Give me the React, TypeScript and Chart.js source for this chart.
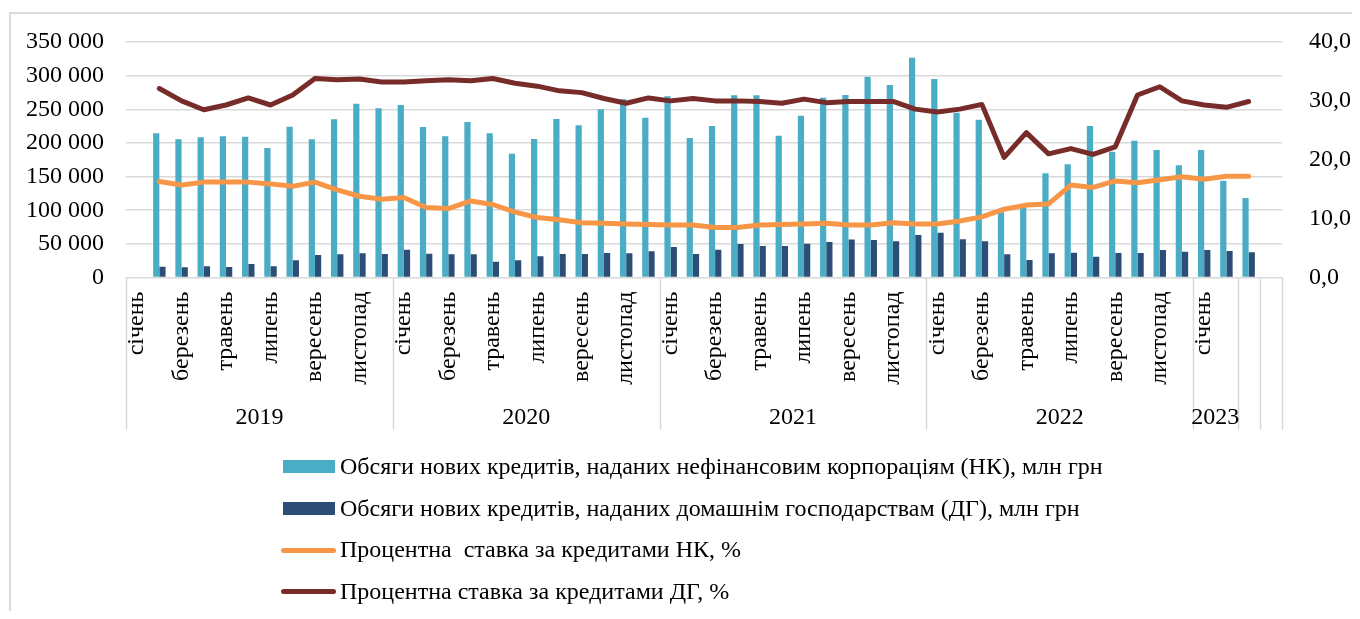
import React, { useEffect, useRef } from 'react';
import { Chart, registerables } from 'chart.js';

Chart.register(...registerables);

const FONT = '"Liberation Serif", "Times New Roman", Times, serif';
const FS = 24;

// Month names used as the lower level of the category axis
const monthNames = ['січень', 'лютий', 'березень', 'квітень', 'травень', 'червень', 'липень', 'серпень', 'вересень', 'жовтень', 'листопад', 'грудень'];
// Upper level of the category axis (years) and the number of categories in each group
const yearLabels = ['2019', '2020', '2021', '2022', '2023', '', ''];
const yearSpans = [12, 12, 12, 12, 2, 1, 1];

// Series values (one per month, 50 points)
const nkVolume = [
  214300, 205400, 208400, 209800, 209300, 192500, 224200, 205400, 235100, 258400, 251400, 256400,
  223700, 209800, 231100, 214300, 184000, 205800, 235600, 226200, 250000, 264800, 237500, 269300,
  207300, 225200, 270800, 270800, 210800, 240500, 267300, 271200, 298500, 286100, 326700, 295000,
  245000, 234600, 97000, 105000, 154800, 168200, 225200, 187000, 203400, 189500, 166700, 189500,
  143900, 118200,
];
const dgVolume = [
  16000, 15100, 16600, 15600, 20000, 16600, 25500, 33400, 34400, 35900, 34900, 41400,
  35400, 34400, 34400, 23500, 25500, 31500, 34900, 34900, 36400, 35900, 38900, 45300,
  34900, 41400, 49800, 46800, 46800, 50300, 52800, 56300, 55700, 53800, 63200, 66600,
  56700, 53800, 34400, 26000, 35900, 36900, 31000, 36400, 36400, 40900, 38400, 40900,
  39400, 37400,
];
const nkRate = [
  16.3, 15.7, 16.2, 16.2, 16.2, 15.9, 15.5, 16.2, 14.9, 13.8, 13.3, 13.6,
  11.9, 11.7, 13.0, 12.4, 11.1, 10.2, 9.8, 9.3, 9.2, 9.1, 9.0, 8.9,
  8.9, 8.5, 8.5, 8.9, 9.0, 9.1, 9.2, 8.9, 8.9, 9.3, 9.1, 9.1,
  9.6, 10.3, 11.6, 12.3, 12.5, 15.7, 15.3, 16.4, 16.1, 16.6, 17.1, 16.7,
  17.2, 17.2,
];
const dgRate = [
  32.1, 30.0, 28.5, 29.3, 30.5, 29.3, 31.0, 33.8, 33.6, 33.7, 33.2, 33.2,
  33.4, 33.6, 33.4, 33.8, 33.0, 32.5, 31.7, 31.4, 30.4, 29.6, 30.5, 30.0,
  30.4, 30.0, 30.0, 29.9, 29.6, 30.3, 29.7, 29.9, 29.9, 29.9, 28.6, 28.1,
  28.6, 29.4, 20.4, 24.6, 21.0, 21.9, 20.9, 22.2, 31.0, 32.4, 30.0, 29.3,
  28.9, 29.9,
];

const seriesNames = [
  'Обсяги нових кредитів, наданих нефінансовим корпораціям (НК), млн грн',
  'Обсяги нових кредитів, наданих домашнім господарствам (ДГ), млн грн',
  'Процентна  ставка за кредитами НК, %',
  'Процентна ставка за кредитами ДГ, %',
];
const colors = ['#4BACC6', '#2C4D75', '#F79646', '#772C2A'];

// Build category list from the year groups
const categories: string[] = [];
const showLabel: boolean[] = [];
yearSpans.forEach((span, g) => {
  for (let k = 0; k < span; k++) {
    categories.push(yearLabels[g] ? monthNames[k] : '');
    showLabel.push(yearLabels[g] !== '' && k % 2 === 0);
  }
});
// data sits in categories 1..50 (first and last categories are empty)
const pad = (arr: number[]) => [null, ...arr, null];

const multiLevelAxis = {
  id: 'multiLevelAxis',
  afterDraw(chart: any) {
    const { ctx, chartArea } = chart;
    const x = chart.scales.x;
    const step = x.getPixelForValue(1) - x.getPixelForValue(0);
    const edge = (i: number) => x.getPixelForValue(0) - step / 2 + i * step;
    const base = chartArea.bottom;
    ctx.save();
    // dividers
    ctx.strokeStyle = '#d9d9d9';
    ctx.lineWidth = 1.5;
    let acc = 0;
    const bounds = [0];
    yearSpans.forEach((s) => { acc += s; bounds.push(acc); });
    bounds.forEach((b) => {
      const px = Math.round(edge(b)) + 0.5;
      ctx.beginPath();
      ctx.moveTo(px, base);
      ctx.lineTo(px, base + 152.5);
      ctx.stroke();
    });
    // month labels
    ctx.fillStyle = '#000';
    ctx.font = `${FS}px ${FONT}`;
    categories.forEach((lab, i) => {
      if (!showLabel[i] || !lab) return;
      ctx.save();
      ctx.translate(x.getPixelForValue(i), base + 14);
      ctx.rotate(-Math.PI / 2);
      ctx.textAlign = 'right';
      ctx.textBaseline = 'middle';
      ctx.fillText(lab, 0, 0);
      ctx.restore();
    });
    // year labels
    ctx.textAlign = 'center';
    ctx.textBaseline = 'alphabetic';
    for (let g = 0; g < yearLabels.length; g++) {
      if (!yearLabels[g]) continue;
      const cx = (edge(bounds[g]) + edge(bounds[g + 1])) / 2;
      ctx.fillText(yearLabels[g], cx, base + 146.5);
    }
    ctx.restore();
  },
};

const fmtThousands = (v: number) => String(v).replace(/\B(?=(\d{3})+(?!\d))/g, ' ');

export default function App() {
  const canvasRef = useRef<HTMLCanvasElement | null>(null);

  useEffect(() => {
    const canvas = canvasRef.current;
    if (!canvas) return;
    const chart = new Chart(canvas, {
      type: 'bar',
      data: {
        labels: categories,
        datasets: [
          {
            type: 'bar',
            label: seriesNames[0],
            data: pad(nkVolume),
            backgroundColor: colors[0],
            yAxisID: 'y',
            order: 2,
            categoryPercentage: 0.56,
            barPercentage: 1,
          },
          {
            type: 'bar',
            label: seriesNames[1],
            data: pad(dgVolume),
            backgroundColor: colors[1],
            yAxisID: 'y',
            order: 2,
            categoryPercentage: 0.56,
            barPercentage: 1,
          },
          {
            type: 'line',
            label: seriesNames[2],
            data: pad(nkRate),
            borderColor: colors[2],
            backgroundColor: colors[2],
            borderWidth: 5,
            pointRadius: 0,
            borderCapStyle: 'round',
            borderJoinStyle: 'round',
            tension: 0,
            yAxisID: 'y1',
            order: 1,
          },
          {
            type: 'line',
            label: seriesNames[3],
            data: pad(dgRate),
            borderColor: colors[3],
            backgroundColor: colors[3],
            borderWidth: 5,
            pointRadius: 0,
            borderCapStyle: 'round',
            borderJoinStyle: 'round',
            tension: 0,
            yAxisID: 'y1',
            order: 0,
          },
        ] as any,
      },
      options: {
        responsive: false,
        animation: false,
        devicePixelRatio: 1,
        layout: { padding: { top: 34, left: 0, right: 0, bottom: 0 } },
        plugins: { legend: { display: false }, tooltip: { enabled: false } },
        scales: {
          x: {
            offset: true,
            grid: { display: false },
            border: { display: false },
            ticks: { display: false },
            afterFit: (s: any) => { s.height = 170.5; s.paddingLeft = 0; s.paddingRight = 0; },
          },
          y: {
            position: 'left',
            min: 0,
            max: 350000,
            grid: { color: '#d9d9d9', lineWidth: 1.5, drawTicks: false },
            border: { display: false },
            ticks: {
              stepSize: 50000,
              padding: 22,
              color: '#000',
              font: { family: FONT, size: FS },
              callback: (v: any) => fmtThousands(Number(v)),
            },
            afterFit: (s: any) => { s.width = 118; s.paddingTop = 0; s.paddingBottom = 0; },
          },
          y1: {
            position: 'right',
            min: 0,
            max: 40,
            grid: { display: false, drawTicks: false },
            border: { display: false },
            ticks: {
              stepSize: 5,
              padding: 27,
              color: '#000',
              font: { family: FONT, size: FS },
              callback: (v: any) => Number(v).toFixed(1).replace('.', ','),
            },
            afterFit: (s: any) => { s.width = 78; s.paddingTop = 0; s.paddingBottom = 0; },
          },
        },
      } as any,
      plugins: [multiLevelAxis],
    });
    return () => chart.destroy();
  }, []);

  const rowTop = 438;
  const rowH = 41.7;

  return (
    <div style={{ position: 'relative', width: 1352, height: 603, overflow: 'hidden', fontFamily: FONT }}>
      <div
        style={{
          position: 'absolute', left: 1, top: 4, width: 2000, height: 2000,
          borderLeft: '2px solid #dadada', borderTop: '2px solid #dadada', boxSizing: 'border-box',
        }}
      />
      <canvas
        ref={canvasRef}
        width={1352}
        height={440}
        style={{ position: 'absolute', left: 0, top: 0, width: 1352, height: 440 }}
      />
      {seriesNames.map((name, i) => {
        const isBar = i < 2;
        const top = rowTop + i * rowH;
        return (
          <div key={i} style={{ position: 'absolute', left: 0, top, height: rowH, width: 1352 }}>
            {isBar ? (
              <div style={{ position: 'absolute', left: 275, top: rowH / 2 - 6.5, width: 52, height: 13, background: colors[i] }} />
            ) : (
              <div style={{ position: 'absolute', left: 273, top: rowH / 2 - 2.5, width: 55, height: 5, borderRadius: 3, background: colors[i] }} />
            )}
            <div
              style={{
                position: 'absolute', left: 332, top: 0, height: rowH, lineHeight: `${rowH}px`,
                fontSize: FS, color: '#000', whiteSpace: 'pre',
              }}
            >
              {name}
            </div>
          </div>
        );
      })}
    </div>
  );
}
